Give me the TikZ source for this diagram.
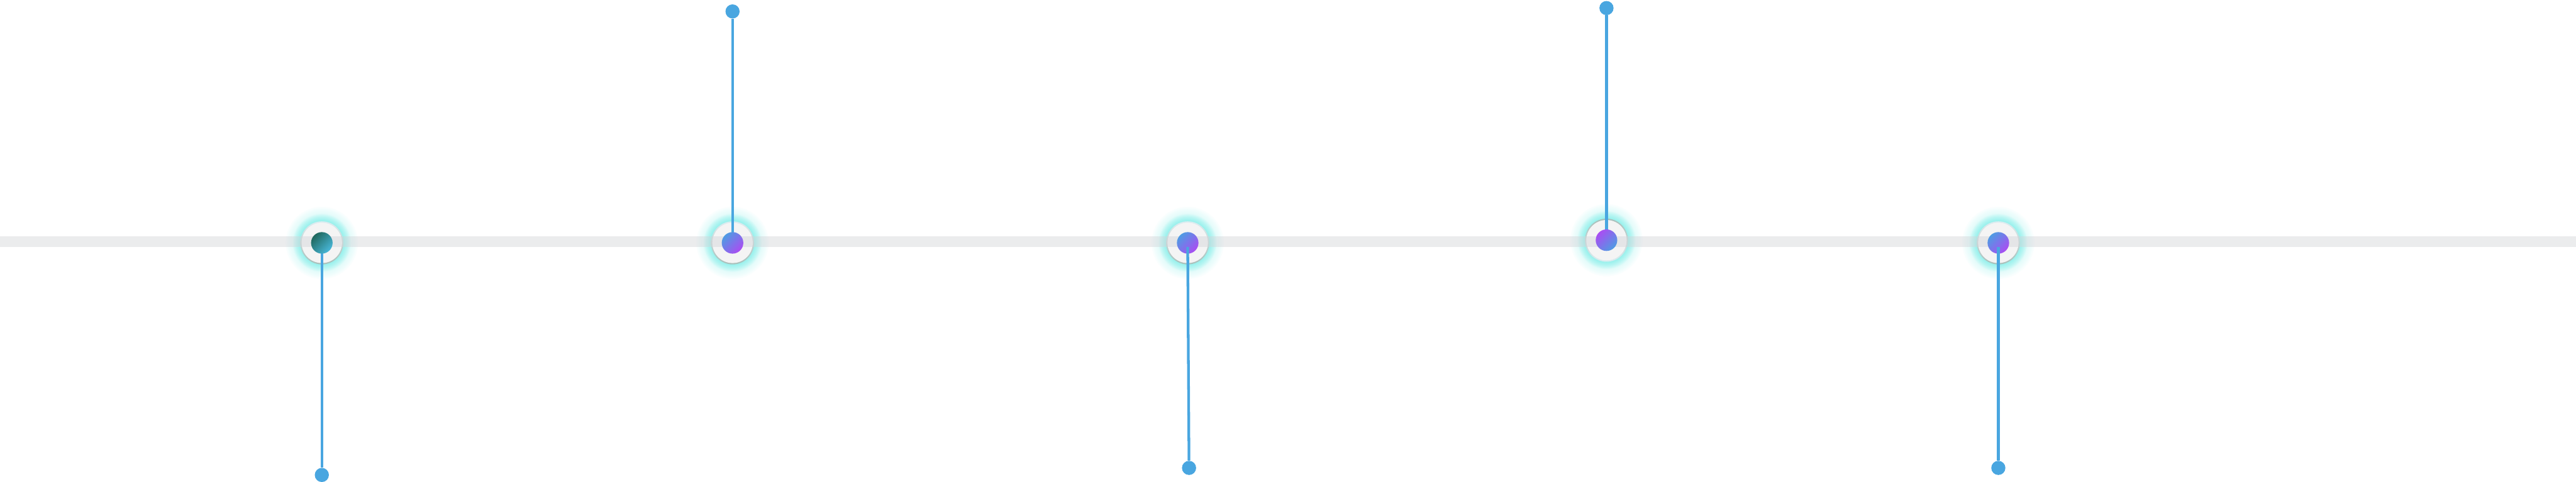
\documentclass[tikz,border=0pt]{standalone}
\usepackage{xcolor}
\usepackage{tikz}
\usetikzlibrary{positioning}

\definecolor{barcol}{RGB}{210,212,216}
\definecolor{glowcol}{RGB}{89,232,225}
\definecolor{ringfill}{RGB}{244,244,244}
\definecolor{ringlight}{RGB}{221,237,241}
\definecolor{ringdark}{RGB}{169,191,186}
\definecolor{stemcol}{RGB}{73,166,224}
\definecolor{tealdark}{RGB}{31,103,92}
\definecolor{tealblue}{RGB}{72,183,217}
\definecolor{hubblue}{RGB}{79,155,227}
\definecolor{hubpurple}{RGB}{170,77,242}

\tikzset{
  ringout/.style={circle, inner sep=0pt, minimum size=1.28cm},
  ringdown/.style={ringout, top color=ringlight, bottom color=ringdark},
  ringup/.style={ringout, top color=ringdark, bottom color=ringlight},
  ringin/.style={circle, inner sep=0pt, minimum size=1.20cm, fill=ringfill},
  hub/.style={circle, inner sep=0pt, minimum size=0.64cm},
  hubteal/.style={hub, top color=tealdark, bottom color=tealblue, shading angle=45},
  hubviolet/.style={hub, top color=hubblue, bottom color=hubpurple, shading angle=45},
  hubflip/.style={hub, top color=hubpurple, bottom color=hubblue, shading angle=45},
  pin/.style={circle, inner sep=0pt, minimum size=0.42cm, fill=stemcol},
  stem/.style={stemcol, line width=0.8mm},
}

\begin{document}
\begin{tikzpicture}[x=1cm, y=-1cm]
\useasboundingbox (0,0) rectangle (76.52,14.32);
% hub centres
\coordinate (c1) at (9.56,7.22);
\coordinate (c2) at (21.76,7.22);
\coordinate (c3) at (35.28,7.22);
\coordinate (c4) at (47.72,7.14);
\coordinate (c5) at (59.36,7.22);
% cyan glow round each hub (denser near the ring)
\foreach \c in {c1,c2,c3,c4,c5}{
  \foreach \r in {0.66,0.68,...,0.86}{\fill[glowcol, opacity=0.05] (\c) circle (\r);}
  \foreach \r in {0.66,0.69,...,1.10}{\fill[glowcol, opacity=0.025] (\c) circle (\r);}
}
% rings
\node[ringdown] (r1) at (c1) {};
\node[ringdown] (r2) at (c2) {};
\node[ringdown] (r3) at (c3) {};
\node[ringup]   (r4) at (c4) {};
\node[ringdown] (r5) at (c5) {};
\foreach \c in {1,...,5}{\node[ringin] (q\c) at (r\c) {};}
% timeline bar
\fill[barcol, opacity=0.45] (0,7.02) rectangle (76.52,7.34);
% end pins
\node[pin] (p1) at (9.56,14.12) {};
\node[pin] (p2) at (21.76,0.34) {};
\node[pin] (p3) at (35.32,13.91) {};
\node[pin] (p4) at (47.72,0.24) {};
\node[pin] (p5) at (59.36,13.91) {};
% stems running under the hub
\draw[stem] (p1) -- (c1);
\draw[stem] (p2) -- (c2);
\draw[stem] (p4) -- (c4);
% hubs
\node[hubteal]   (h1) at (c1) {};
\node[hubviolet] (h2) at (c2) {};
\node[hubviolet] (h3) at (c3) {};
\node[hubflip]   (h4) at (c4) {};
\node[hubviolet] (h5) at (c5) {};
% stems laid over the hub
\coordinate (s3) at (35.28,7.34);
\coordinate (s5) at (59.36,7.34);
\draw[stem] (s3) -- (p3);
\draw[stem] (s5) -- (p5);
\end{tikzpicture}
\end{document}
